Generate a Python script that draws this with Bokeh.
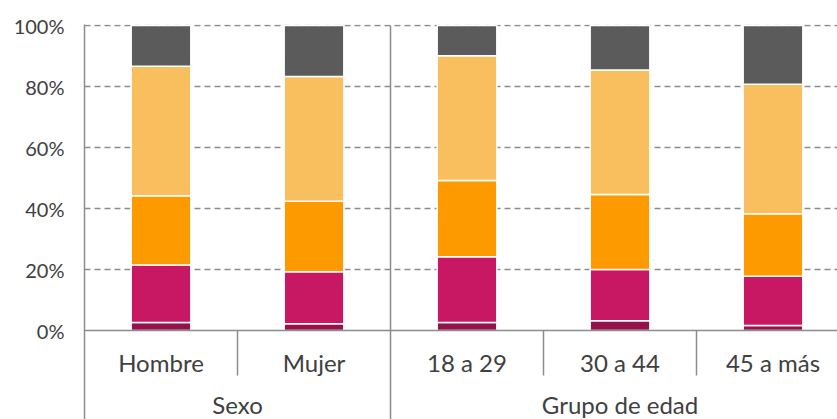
from bokeh.plotting import figure
from bokeh.models import Range1d, FixedTicker, ColumnDataSource
from bokeh.core.properties import value
from bokeh.embed import file_html
from bokeh.resources import INLINE

# ---- data ----
categories = ["Hombre", "Mujer", "18 a 29", "30 a 44", "45 a más"]
groups = ["Sexo", "Grupo de edad"]
group_sizes = [2, 3]
series = ["Nivel 1", "Nivel 2", "Nivel 3", "Nivel 4", "Nivel 5"]
nivel1 = [2.6, 2.2, 2.6, 3.2, 1.6]
nivel2 = [18.9, 17.1, 21.6, 16.8, 16.2]
nivel3 = [22.7, 23.1, 25.0, 24.6, 20.5]
nivel4 = [42.4, 40.9, 40.9, 40.8, 42.4]
nivel5 = [13.4, 16.7, 9.9, 14.6, 19.3]
colors = ["#94124A", "#C81864", "#FD9A00", "#F9BF5E", "#5B5B5B"]
y_ticks = [0, 20, 40, 60, 80, 100]
y_tick_labels = ["0%", "20%", "40%", "60%", "80%", "100%"]

FONT = "Lato"
TXT = "#404040"
LINE = "#8c8c8c"

xpos = [i + 0.5 for i in range(len(categories))]
src = ColumnDataSource(dict(x=xpos, cat=categories,
                            **{s: v for s, v in zip(series, [nivel1, nivel2, nivel3, nivel4, nivel5])}))

W, H = 837, 419
LEFT, TOP = 84, 24
px_per_unit = 3.05
frame_h = H - TOP
frame_w = W - LEFT
y_end = 100 + 1 / px_per_unit
y_start = y_end - frame_h / px_per_unit
cat_px = 153.0

p = figure(width=W, height=H, output_backend="svg", toolbar_location=None,
           x_range=Range1d(0, frame_w / cat_px), y_range=Range1d(y_start, y_end),
           x_axis_location=None, min_border_left=LEFT, min_border_right=0,
           min_border_top=TOP, min_border_bottom=0)
p.outline_line_color = None
p.background_fill_color = "white"
p.border_fill_color = "white"

# y axis
ya = p.yaxis[0]
ya.ticker = FixedTicker(ticks=y_ticks)
ya.major_label_overrides = {t: l for t, l in zip(y_ticks, y_tick_labels)}
ya.major_tick_line_color = None
ya.minor_tick_line_color = None
ya.major_tick_out = 0
ya.major_label_standoff = 20
ya.axis_line_color = LINE
ya.axis_line_width = 1.5
ya.major_label_text_font = FONT
ya.major_label_text_font_size = "20px"
ya.major_label_text_color = TXT

p.xgrid.visible = False
p.ygrid.ticker = FixedTicker(ticks=y_ticks[1:])
p.ygrid.grid_line_color = LINE
p.ygrid.grid_line_dash = "6 4"
p.ygrid.grid_line_width = 1.5

# bars
p.vbar_stack(series, x="x", width=0.39, source=src, color=colors,
             line_color="white", line_width=1.5)

# baseline axis at 0
p.segment(x0=[0], y0=[0], x1=[frame_w / cat_px], y1=[0], line_color=LINE, line_width=1.5)

# separators
short_tick = -45 / px_per_unit
bounds = [0]
for g in group_sizes:
    bounds.append(bounds[-1] + g)
inner = [b for b in range(1, len(categories)) if b not in bounds]
p.segment(x0=inner, y0=[0] * len(inner), x1=inner, y1=[short_tick] * len(inner),
          line_color=LINE, line_width=1.5)
p.segment(x0=bounds[1:], y0=[100] * (len(bounds) - 1), x1=bounds[1:], y1=[y_start] * (len(bounds) - 1),
          line_color=LINE, line_width=1.5)

# category labels
p.text(x=xpos, y=[-32 / px_per_unit] * len(categories), text=categories,
       text_font=value(FONT), text_font_size="24px", text_color=TXT,
       text_align="center", text_baseline="middle")
# group labels
gx = [(bounds[i] + bounds[i + 1]) / 2 for i in range(len(groups))]
p.text(x=gx, y=[-74 / px_per_unit] * len(groups), text=groups,
       text_font=value(FONT), text_font_size="24px", text_color=TXT,
       text_align="center", text_baseline="middle")

open("out.html", "w").write(file_html(p, INLINE))
